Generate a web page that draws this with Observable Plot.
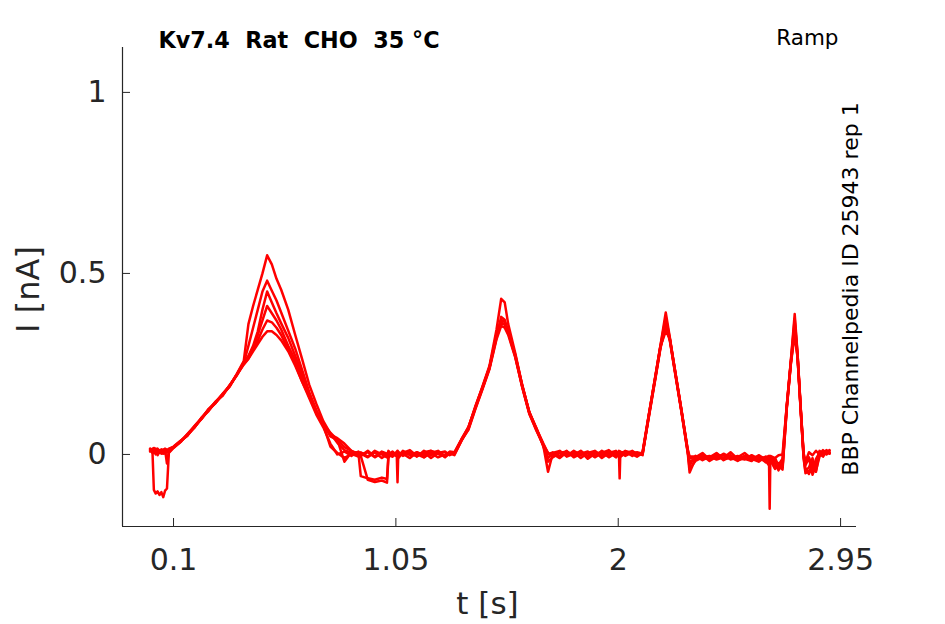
<!DOCTYPE html>
<html>
<head>
<meta charset="utf-8">
<script src="https://cdn.jsdelivr.net/npm/d3@7"></script>
<script src="https://cdn.jsdelivr.net/npm/@observablehq/plot@0.6"></script>
<style>
  html, body { margin: 0; padding: 0; background: #ffffff; }
</style>
</head>
<body>
<div id="chart"></div>
<script>
// time samples (s)
const T = [
  0, 0.01, 0.016, 0.024, 0.032, 0.04, 0.048, 0.056, 0.064, 0.072, 0.08,
  0.1, 0.13, 0.16, 0.19, 0.22, 0.25, 0.28, 0.31, 0.34, 0.37, 0.4, 0.42, 0.44, 0.46, 0.48, 0.5, 0.52, 0.54, 0.56, 0.59, 0.62, 0.65, 0.68, 0.71, 0.74, 0.77, 0.8, 0.83, 0.86,
  0.89, 0.9, 0.93, 0.96, 0.99, 1.012, 1.018, 1.035, 1.054, 1.057, 1.06, 1.08, 1.11, 1.14, 1.17, 1.2, 1.23, 1.26, 1.28,
  1.3, 1.33, 1.36, 1.39, 1.42, 1.45, 1.48, 1.5, 1.515, 1.53, 1.56, 1.59, 1.62, 1.65, 1.68, 1.7,
  1.72, 1.75, 1.78, 1.81, 1.84, 1.87, 1.9, 1.93, 1.96, 1.99, 2.003, 2.006, 2.009, 2.03, 2.06, 2.08, 2.104,
  2.13, 2.16, 2.18, 2.203, 2.22, 2.24, 2.27, 2.297, 2.305,
  2.33, 2.36, 2.39, 2.42, 2.45, 2.48, 2.51, 2.54, 2.57, 2.6, 2.63, 2.644, 2.647, 2.65, 2.67, 2.685, 2.702,
  2.72, 2.737, 2.754, 2.766, 2.78, 2.792, 2.8,
  2.815, 2.83, 2.845, 2.86, 2.875, 2.89, 2.903
];

// current traces (nA), one per sweep
const traceA = [
  .015,.010,.018,.008,.014,.006,.012,.004,.016,.010,.014,
  .022,.038,.052,.078,.098,.124,.142,.168,.188,.222,.258,.360,.410,.455,.500,.550,.525,.485,.455,.400,.330,.262,.192,.140,.092,.058,.032,.012,.004,
  .006,-.004,.010,-.006,.008,.002,-.008,.006,-.002,.010,-.006,.004,.012,-.004,.006,.010,.002,-.004,.008,
  .006,.042,.075,.132,.188,.245,.345,.430,.420,.360,.280,.190,.118,.072,.030,.004,
  -.006,.008,-.004,.010,-.002,.006,-.008,.004,.012,-.004,.008,.002,-.006,.010,.004,-.002,.006,
  .108,.220,.300,.392,.325,.242,.122,.012,-.010,
  -.008,.004,-.014,-.002,-.010,.006,-.012,-.004,-.016,-.006,-.010,-.008,-.014,-.004,-.010,-.002,.000,
  .135,.255,.388,.280,.125,.004,-.020,
  .006,-.002,.010,.000,.012,.004,.010
];
const traceB = [
  .012,.008,-.098,-.108,-.102,-.112,-.104,-.118,-.100,-.094,.004,
  .018,.034,.056,.074,.102,.120,.146,.162,.192,.218,.252,.300,.350,.400,.450,.480,.452,.425,.392,.342,.292,.232,.172,.122,.082,.022,.004,-.010,.002,
  -.006,.002,-.008,.006,-.010,.000,.004,-.006,.008,.002,-.004,.002,-.010,.006,-.002,.004,-.008,.000,.006,
  .000,.038,.070,.128,.182,.238,.322,.380,.372,.340,.272,.185,.112,.068,.024,-.048,
  .002,-.010,.006,-.004,.008,-.012,.002,.006,-.008,.004,-.006,.008,-.002,.004,.000,-.006,.004,
  .100,.214,.292,.360,.318,.236,.118,.004,-.050,
  -.012,-.002,-.018,-.006,.000,-.014,-.008,.004,-.012,-.020,-.006,-.010,-.150,-.012,-.038,-.030,-.034,
  .128,.246,.350,.272,.118,-.010,-.052,
  -.046,-.050,-.012,.004,-.004,.008,.002
];
const traceC = [
  .010,.016,.004,.012,-.002,.010,.006,.014,.002,.010,.008,
  .020,.036,.054,.076,.100,.126,.144,.166,.190,.220,.254,.272,.300,.340,.400,.450,.420,.390,.362,.322,.272,.222,.166,.120,.085,.050,.040,-.020,.006,
  .004,-.060,-.066,-.070,-.064,-.068,-.004,.008,-.002,.006,-.010,.004,.008,-.006,.010,-.002,.006,-.008,.004,
  .004,.040,.072,.130,.185,.240,.330,.365,.358,.335,.270,.188,.115,.070,.028,.000,
  .006,-.004,.010,-.008,.002,.008,-.006,.010,-.002,.006,-.004,.002,.008,-.004,.006,.002,.000,
  .104,.218,.296,.370,.320,.240,.120,.008,-.030,
  -.004,-.016,-.006,-.012,.002,-.008,-.018,-.006,-.010,-.004,-.022,-.012,-.008,-.016,-.040,-.024,-.036,
  .130,.250,.365,.276,.122,-.004,-.040,
  -.054,-.020,-.044,-.006,.008,.000,.006
];
const traceD = [
  .014,.006,.012,.000,.016,.008,.010,.002,.012,.006,.016,
  .021,.037,.055,.077,.099,.122,.144,.165,.188,.220,.255,.270,.295,.330,.370,.410,.390,.370,.345,.300,.260,.210,.160,.115,.080,.055,.045,.030,.010,
  .002,-.004,-.070,-.076,-.072,-.078,-.010,.004,-.006,-.077,-.004,.008,-.002,.006,-.008,.004,.010,-.004,.002,
  .002,.039,.068,.126,.180,.236,.318,.355,.350,.330,.268,.186,.114,.066,.026,.004,
  -.004,.008,.000,.006,-.010,.004,.010,-.004,.006,-.008,.002,-.066,.004,.008,-.004,.006,.002,
  .102,.216,.294,.350,.316,.238,.120,.006,-.020,
  -.010,-.004,-.012,.002,-.016,-.006,-.010,-.014,-.002,-.012,-.018,-.030,-.014,-.006,-.026,-.044,-.018,
  .132,.252,.340,.270,.120,.000,-.030,
  -.010,-.056,-.030,.002,-.006,.010,.004
];
const traceE = [
  .008,.014,.006,.016,.010,.004,.014,.008,.012,-.025,.010,
  .019,.035,.057,.079,.101,.124,.146,.167,.190,.221,.250,.265,.290,.315,.345,.370,.365,.350,.330,.290,.250,.200,.155,.110,.075,.030,.000,.008,-.004,
  .008,.000,.006,-.008,.004,-.002,.010,-.006,.004,-.002,.008,-.004,.006,.000,-.008,.010,.002,-.006,.004,
  -.002,.037,.074,.134,.186,.242,.326,.360,.362,.338,.274,.192,.116,.074,.022,-.010,
  .004,.010,-.006,.002,.006,-.004,.008,-.010,.004,.010,-.002,.006,-.006,.002,.010,-.004,.006,
  .106,.222,.298,.340,.322,.244,.124,.010,-.040,
  -.018,-.008,-.004,-.014,-.008,-.002,-.016,-.010,-.006,-.014,-.008,-.004,-.012,-.020,-.010,-.032,-.042,
  .126,.248,.330,.268,.116,-.008,-.046,
  -.036,-.010,-.048,.006,.000,.012,.004
];
const traceF = [
  .016,.004,.010,.014,.006,.012,.002,.010,.008,.014,.006,
  .020,.036,.053,.075,.100,.123,.143,.166,.189,.219,.248,.264,.285,.305,.325,.340,.340,.330,.315,.285,.245,.200,.160,.120,.085,.060,.040,.020,.010,
  -.002,.006,-.006,.010,.000,-.008,.006,.002,-.004,.008,-.006,.010,.000,-.004,.006,-.010,.004,.008,-.002,
  .004,.041,.076,.130,.184,.240,.334,.372,.366,.338,.276,.190,.117,.070,.026,-.020,
  -.008,.004,.008,-.002,.010,-.006,.004,.000,.008,-.006,.010,-.004,.006,-.002,.008,.004,-.002,
  .106,.220,.298,.380,.322,.242,.122,.014,-.006,
  -.006,-.012,-.008,.004,-.012,-.010,-.004,-.012,-.018,-.002,-.014,-.006,-.010,-.008,-.018,-.028,-.012,
  .134,.254,.375,.278,.124,.002,-.025,
  -.008,-.040,-.024,.010,.004,.006,.012
];

const xTicks = [0.1, 1.05, 2, 2.95];
const yTicks = [0, 0.5, 1];
const xDomain = [-0.118, 3.018];
const yDomain = [-0.199, 1.124];
const titleText = "Kv7.4  Rat  CHO  35 °C";
const protocolText = "Ramp";
const sideText = "BBP Channelpedia ID 25943 rep 1";
const xLabel = "t [s]";
const yLabel = "I [nA]";

const traces = [traceA, traceB, traceC, traceD, traceE, traceF];
const rows = traces.flatMap((vals, k) =>
  T.map((t, i) => ({t, I: vals[i], sweep: k})).filter(d => d.I !== undefined)
);

const axisColor = "#262626";
const plainFormat = d => String(d);

const chart = Plot.plot({
  width: 945,
  height: 624,
  marginLeft: 122,
  marginRight: 89,
  marginTop: 47,
  marginBottom: 98,
  style: {fontFamily: "DejaVu Sans", background: "#ffffff", overflow: "visible"},
  x: {domain: xDomain},
  y: {domain: yDomain},
  marks: [
    Plot.line(rows, {x: "t", y: "I", z: "sweep", stroke: "#ff0000", strokeWidth: 2.5, strokeLinejoin: "round"}),
    Plot.ruleX([xDomain[0]], {stroke: axisColor, strokeWidth: 1.2}),
    Plot.ruleY([yDomain[0]], {stroke: axisColor, strokeWidth: 1.2}),
    Plot.axisX(xTicks, {tickSize: -8, tickPadding: 30, fontSize: 30, stroke: axisColor, fill: axisColor, label: null, tickFormat: plainFormat}),
    Plot.axisY(yTicks, {tickSize: -8, tickPadding: 24, fontSize: 30, stroke: axisColor, fill: axisColor, label: null, tickFormat: plainFormat}),
    Plot.text([xLabel], {frameAnchor: "bottom", dx: -2, dy: 78, textAnchor: "middle", lineAnchor: "middle", fontSize: 31, fill: axisColor}),
    Plot.text([yLabel], {frameAnchor: "left", dx: -94, dy: 2.5, rotate: -90, textAnchor: "middle", lineAnchor: "middle", fontSize: 32, fill: axisColor}),
    Plot.text([titleText], {frameAnchor: "top-left", dx: 36, dy: -7, textAnchor: "start", lineAnchor: "middle", fontSize: 22.3, fontWeight: "bold", fill: "#000000"}),
    Plot.text([protocolText], {frameAnchor: "top-right", dx: -18, dy: -9, textAnchor: "end", lineAnchor: "middle", fontSize: 21.5, fill: "#000000"}),
    Plot.text([sideText], {frameAnchor: "right", dx: -6, dy: 2, rotate: -90, textAnchor: "middle", lineAnchor: "middle", fontSize: 22, fill: "#000000"})
  ]
});
chart.querySelectorAll("text").forEach(t => t.setAttribute("xml:space", "preserve"));
chart.style.whiteSpace = "pre";
document.getElementById("chart").appendChild(chart);
</script>
</body>
</html>
